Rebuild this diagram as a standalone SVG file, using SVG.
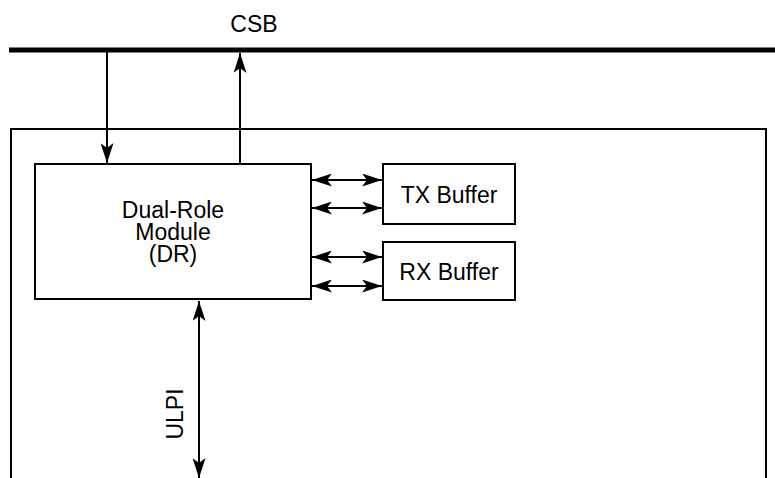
<svg xmlns="http://www.w3.org/2000/svg" width="775" height="478" viewBox="0 0 775 478">
<style>
.box{fill:#fff;stroke:#000;stroke-width:2}
.ln{fill:none;stroke:#000;stroke-width:2}
.t{font-family:"Liberation Sans",Arial,sans-serif;font-size:23px;fill:#000;text-anchor:middle}
</style>
<defs>
<marker id="ah" viewBox="0 0 20 13" refX="20" refY="6.5" markerWidth="20" markerHeight="13" markerUnits="userSpaceOnUse" orient="auto-start-reverse">
<path d="M0,0 L20,6.5 L0,13 L5,6.5 Z" fill="#000"/>
</marker>
</defs>
<g id="bus">
<line x1="9" y1="50" x2="775" y2="50" stroke="#000" stroke-width="5"/>
<text class="t" x="254" y="32">CSB</text>
</g>
<g id="outer">
<rect class="box" x="11" y="129" width="755" height="360"/>
</g>
<g id="dr">
<rect class="box" x="35" y="164" width="276" height="135"/>
<text class="t" x="173" y="218">Dual-Role</text>
<text class="t" x="173" y="240">Module</text>
<text class="t" x="173" y="262">(DR)</text>
</g>
<g id="tx">
<rect class="box" x="383" y="164" width="132" height="60"/>
<text class="t" x="449" y="203">TX Buffer</text>
</g>
<g id="rx">
<rect class="box" x="383" y="242" width="132" height="58"/>
<text class="t" x="449" y="280">RX Buffer</text>
</g>
<g id="connectors">
<line class="ln" x1="107" y1="52" x2="107" y2="163" marker-end="url(#ah)"/>
<line class="ln" x1="240" y1="164" x2="240" y2="53" marker-end="url(#ah)"/>
<line class="ln" x1="312" y1="180" x2="382" y2="180" marker-start="url(#ah)" marker-end="url(#ah)"/>
<line class="ln" x1="312" y1="208" x2="382" y2="208" marker-start="url(#ah)" marker-end="url(#ah)"/>
<line class="ln" x1="312" y1="257" x2="382" y2="257" marker-start="url(#ah)" marker-end="url(#ah)"/>
<line class="ln" x1="312" y1="286" x2="382" y2="286" marker-start="url(#ah)" marker-end="url(#ah)"/>
<line class="ln" x1="199" y1="301" x2="199" y2="478" marker-start="url(#ah)" marker-end="url(#ah)"/>
<text class="t" transform="translate(183,414) rotate(-90)">ULPI</text>
</g>
</svg>
